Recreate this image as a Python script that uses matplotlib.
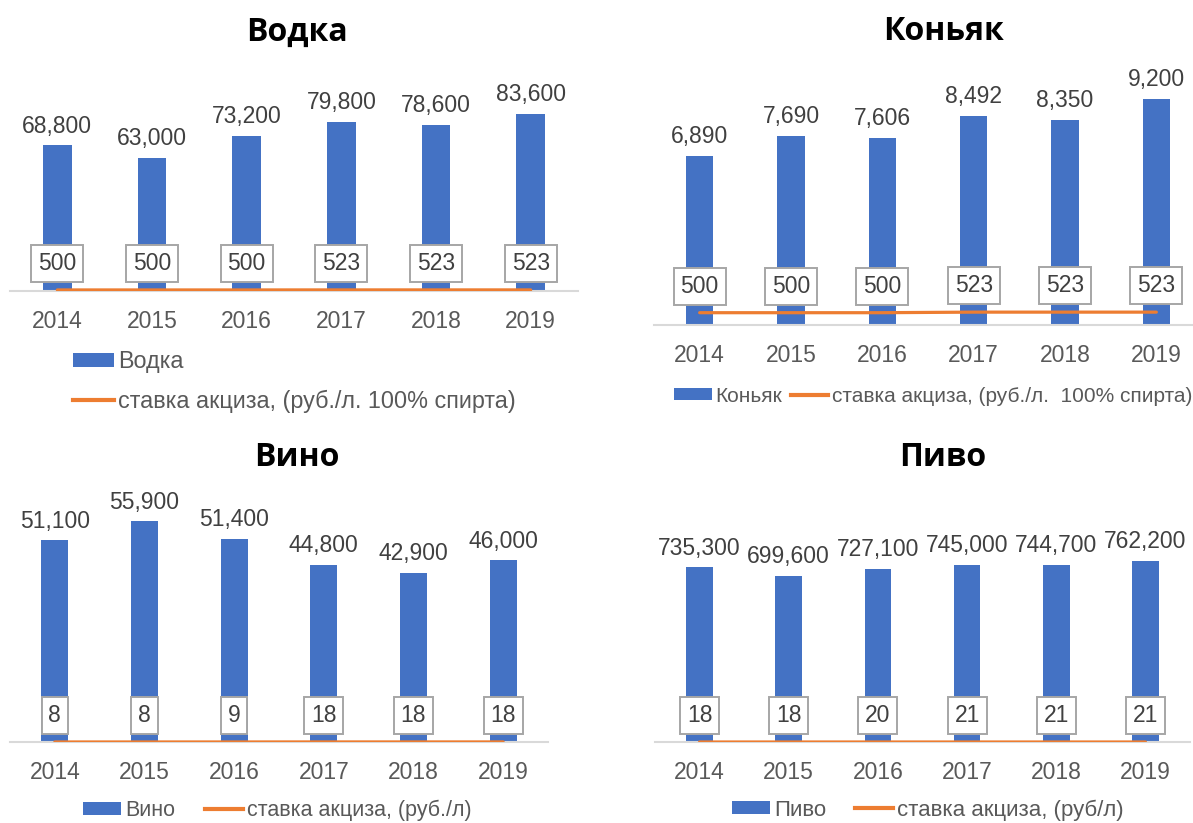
import matplotlib
matplotlib.use("Agg")
import matplotlib.pyplot as plt
from matplotlib.patches import Patch
from matplotlib.lines import Line2D

years = ["2014", "2015", "2016", "2017", "2018", "2019"]

vodka = [68800, 63000, 73200, 79800, 78600, 83600]
vodka_tax = [500, 500, 500, 523, 523, 523]
cognac = [6890, 7690, 7606, 8492, 8350, 9200]
cognac_tax = [500, 500, 500, 523, 523, 523]
wine = [51100, 55900, 51400, 44800, 42900, 46000]
wine_tax = [8, 8, 9, 18, 18, 18]
beer = [735300, 699600, 727100, 745000, 744700, 762200]
beer_tax = [18, 18, 20, 21, 21, 21]

titles = ["Водка", "Коньяк", "Вино", "Пиво"]
bar_labels = ["Водка", "Коньяк", "Вино", "Пиво"]
tax_labels = ["ставка акциза, (руб./л. 100% спирта)",
              "ставка акциза, (руб./л.  100% спирта)",
              "ставка акциза, (руб./л)",
              "ставка акциза, (руб/л)"]

BLUE = "#4472C4"
ORANGE = "#ED7D31"
W, H = 1193, 823

plt.rcParams['font.family'] = ['Liberation Sans', 'DejaVu Sans']
fig = plt.figure(figsize=(W / 100, H / 100), dpi=100)


def add_ax(left, top, right, bottom):
    return fig.add_axes([left / W, 1 - bottom / H, (right - left) / W, (bottom - top) / H])


def draw(ax, vals, tax, ymax, blabel, tlabel):
    x = list(range(len(years)))
    ax.bar(x, vals, width=0.3, color=BLUE, zorder=2)
    ax.plot(x, tax, color=ORANGE, lw=2.3, solid_capstyle='round', zorder=3)
    for i, v in enumerate(vals):
        ax.annotate(f"{v:,}", (i, v), xytext=(0, 5.5), textcoords='offset points',
                    ha='center', va='bottom', fontsize=16.5, color='#404040')
    for i, t in enumerate(tax):
        ax.annotate(f"{t}", (i, t), xytext=(0, 19), textcoords='offset points',
                    ha='center', va='center', fontsize=16.5, color='#404040', zorder=5,
                    bbox=dict(boxstyle='square,pad=0.3', fc='white', ec='#A6A6A6', lw=1.4))
    ax.set_xlim(-0.5, 5.5)
    ax.set_ylim(0, ymax)
    ax.set_xticks(x)
    ax.set_xticklabels(years, fontsize=16.5, color='#595959')
    ax.tick_params(axis='x', length=0, pad=13.5)
    ax.set_yticks([])
    for s in ['top', 'left', 'right']:
        ax.spines[s].set_visible(False)
    ax.spines['bottom'].set_color('#D9D9D9')
    ax.spines['bottom'].set_linewidth(1.5)
    ax.set_facecolor('none')
    handles = [Patch(facecolor=BLUE, edgecolor='none', label=blabel),
               Line2D([0], [0], color=ORANGE, lw=3, label=tlabel)]
    return handles


def legend(handles, xl, yc, ncol, colsp, fs, hl):
    fig.legend(handles=handles, loc='center left',
               bbox_to_anchor=(xl / W, 1 - yc / H), ncol=ncol, frameon=False,
               fontsize=fs, labelcolor='#595959', handlelength=hl, handleheight=0.55,
               handletextpad=0.2, columnspacing=colsp, labelspacing=0.72,
               borderpad=0, borderaxespad=0)


ax1 = add_ax(10, 79.3, 578, 291)
h = draw(ax1, vodka, vodka_tax, 100000, bar_labels[0], tax_labels[0])
legend(h, 73, 381.5, 1, 1.0, 16.8, 1.75)

ax2 = add_ax(654, 79, 1202, 325)
h = draw(ax2, cognac, cognac_tax, 10000, bar_labels[1], tax_labels[1])
legend(h, 674, 396, 2, 0.4, 15, 1.8)

ax3 = add_ax(10, 505, 548, 742)
h = draw(ax3, wine, wine_tax, 60000, bar_labels[2], tax_labels[2])
legend(h, 83, 810, 2, 1.4, 15.5, 1.75)

ax4 = add_ax(655, 528, 1190, 742)
h = draw(ax4, beer, beer_tax, 900000, bar_labels[3], tax_labels[3])
legend(h, 732, 810, 2, 1.3, 16, 1.7)

tfont = dict(fontsize=23, fontweight='bold', color='black',
             family=['Open Sans', 'DejaVu Sans'], ha='center', va='center')
fig.text(297 / W, 1 - 32 / H, titles[0], **tfont)
fig.text(943 / W, 1 - 32 / H, titles[1], **tfont)
fig.text(297 / W, 1 - 457 / H, titles[2], **tfont)
fig.text(943 / W, 1 - 457 / H, titles[3], **tfont)

fig.savefig("out.png", dpi=100, facecolor='white')
